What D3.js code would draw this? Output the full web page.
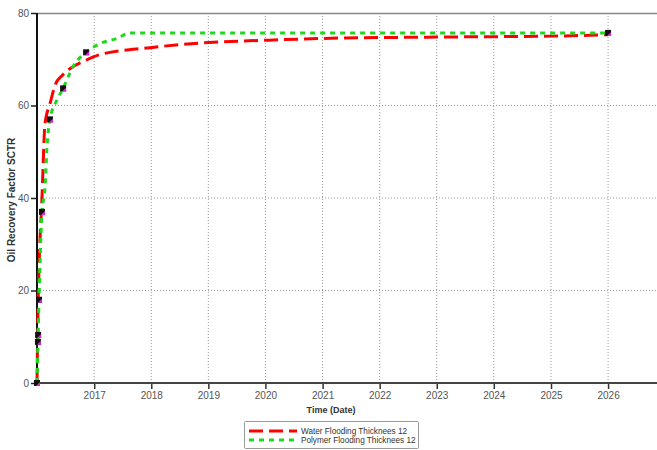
<!DOCTYPE html>
<html>
<head>
<meta charset="utf-8">
<script src="https://cdn.jsdelivr.net/npm/d3@7/dist/d3.min.js"></script>
<style>
  body { margin: 0; background: #fff; }
  svg { font-family: "Liberation Sans", Arial, sans-serif; display: block; }
</style>
</head>
<body>
<svg id="chart"></svg>
<script>
const WIDTH = 657, HEIGHT = 450;

// water flooding (red dashed)
const waterDates = ["2016-01-01","2016-01-07","2016-01-19","2016-02-02","2016-02-08","2016-02-21",
  "2016-03-25","2016-04-27","2016-06-10","2016-07-31","2016-10-23","2017-02-06","2017-12-24",
  "2018-11-03","2020-01-01","2021-01-01","2023-01-01","2025-01-01","2026-01-01"];
const waterValues = [0, 15, 30, 40, 46, 56, 60.5, 64.5, 66.5, 68, 69.5, 71, 72.5, 73.5, 74.1, 74.5, 74.8, 75.0, 75.3];

// polymer flooding (green dotted)
const polyDates = ["2016-01-01","2016-01-07","2016-01-14","2016-02-02","2016-02-21","2016-03-05",
  "2016-03-24","2016-05-08","2016-06-16","2016-08-18","2016-11-10","2017-02-08","2017-05-27",
  "2017-08-19","2026-01-01"];
const polyValues = [0, 9, 18, 37, 42, 51, 57, 61.2, 63.7, 68.4, 71.5, 73.4, 74.5, 75.7, 75.7];

// observed points (square markers)
const markDates = ["2016-01-01","2016-01-07","2016-01-08","2016-01-14","2016-02-02","2016-03-24",
  "2016-06-16","2016-11-10","2026-01-01"];
const markValues = [0, 8.9, 10.4, 18, 37, 57, 63.7, 71.5, 75.7];

const yearTicks = [2017, 2018, 2019, 2020, 2021, 2022, 2023, 2024, 2025, 2026];
const yTicks = [0, 20, 40, 60, 80];
const seriesNames = ["Water Flooding Thicknees 12", "Polymer Flooding Thicknees 12"];

const parse = d3.timeParse("%Y-%m-%d");
const water = waterDates.map((d, i) => ({date: parse(d), value: waterValues[i]}));
const poly = polyDates.map((d, i) => ({date: parse(d), value: polyValues[i]}));
const marks = markDates.map((d, i) => ({date: parse(d), value: markValues[i]}));

const plotL = 37, plotR = 657, plotT = 13, plotB = 383;

const svg = d3.select("#chart").attr("width", WIDTH).attr("height", HEIGHT);

const x = d3.scaleTime()
  .domain([parse("2016-01-01"), parse("2026-11-10")])
  .range([plotL, plotR]);
const y = d3.scaleLinear().domain([0, 80]).range([plotB, plotT]);

/* grid */
svg.append("g").selectAll("line")
  .data(yearTicks)
  .enter().append("line")
  .attr("x1", d => x(new Date(d, 0, 1))).attr("x2", d => x(new Date(d, 0, 1)))
  .attr("y1", plotT).attr("y2", plotB)
  .attr("stroke", "#999").attr("stroke-dasharray", "1,2");

svg.append("g").selectAll("line")
  .data([20, 40, 60])
  .enter().append("line")
  .attr("x1", plotL).attr("x2", plotR)
  .attr("y1", d => y(d)).attr("y2", d => y(d))
  .attr("stroke", "#999").attr("stroke-dasharray", "1,2");

// top border
svg.append("line")
  .attr("x1", plotL).attr("x2", plotR).attr("y1", plotT + 0.5).attr("y2", plotT + 0.5)
  .attr("stroke", "#888").attr("stroke-width", 1.5);

/* axes */
const xAxis = svg.append("g")
  .attr("transform", "translate(0," + plotB + ")")
  .call(d3.axisBottom(x)
    .tickValues(yearTicks.map(d => new Date(d, 0, 1)))
    .tickFormat(d3.timeFormat("%Y"))
    .tickSize(6).tickPadding(3));
xAxis.select(".domain").remove();
xAxis.selectAll("line").attr("stroke", "#333").attr("stroke-width", 1.5);
xAxis.selectAll("text").attr("fill", "#555").attr("font-size", 10).attr("font-family", "Liberation Sans, Arial, sans-serif");

const yAxis = svg.append("g")
  .attr("transform", "translate(" + plotL + ",0)")
  .call(d3.axisLeft(y).tickValues(yTicks).tickSize(6).tickPadding(2));
yAxis.select(".domain").remove();
yAxis.selectAll("line").attr("stroke", "#222").attr("stroke-width", 1.5);
yAxis.selectAll("text").attr("fill", "#555").attr("font-size", 10).attr("font-family", "Liberation Sans, Arial, sans-serif");

svg.append("line")
  .attr("x1", plotL).attr("x2", plotR).attr("y1", plotB).attr("y2", plotB)
  .attr("stroke", "#444").attr("stroke-width", 2);
svg.append("line")
  .attr("x1", plotL).attr("x2", plotL).attr("y1", plotT).attr("y2", plotB + 1)
  .attr("stroke", "#111").attr("stroke-width", 2);

/* titles */
svg.append("text")
  .attr("x", 331).attr("y", 413)
  .attr("text-anchor", "middle")
  .attr("font-size", 9).attr("font-weight", "bold").attr("fill", "#333")
  .text("Time (Date)");

svg.append("text")
  .attr("transform", "translate(15,200) rotate(-90)")
  .attr("text-anchor", "middle")
  .attr("font-size", 10).attr("font-weight", "bold").attr("fill", "#333")
  .text("Oil Recovery Factor SCTR");

/* series */
const line = d3.line().x(d => x(d.date)).y(d => y(d.value)).curve(d3.curveMonotoneX);

svg.append("path").datum(water)
  .attr("d", line).attr("fill", "none")
  .attr("stroke", "#ff0000").attr("stroke-width", 3)
  .attr("stroke-dasharray", "14,6");

svg.append("path").datum(poly)
  .attr("d", line).attr("fill", "none")
  .attr("stroke", "#1ed81e").attr("stroke-width", 3)
  .attr("stroke-dasharray", "5,5");

/* markers */
const mk = svg.append("g").selectAll("g")
  .data(marks)
  .enter().append("g")
  .attr("transform", d => "translate(" + x(d.date) + "," + y(d.value) + ")");
mk.append("rect")
  .attr("x", -3).attr("y", -3).attr("width", 6).attr("height", 6)
  .attr("fill", "#111");
mk.append("path")
  .attr("d", "M-1,3 L3,-1 L3,3 Z")
  .attr("fill", "#e020e0");

/* legend */
const legend = svg.append("g");
legend.append("rect")
  .attr("x", 244.5).attr("y", 421.5).attr("width", 174).attr("height", 27)
  .attr("fill", "#fff").attr("stroke", "#999").attr("rx", 1);

const legendColors = ["#ff0000", "#1ed81e"];
const legendDash = ["14,6", "5,5"];
seriesNames.forEach((name, i) => {
  const ly = 431 + i * 9;
  legend.append("line")
    .attr("x1", 249).attr("x2", 297).attr("y1", ly).attr("y2", ly)
    .attr("stroke", legendColors[i]).attr("stroke-width", 3)
    .attr("stroke-dasharray", legendDash[i]);
  legend.append("text")
    .attr("x", 301).attr("y", ly + 3)
    .attr("font-size", 8.2).attr("fill", "#333")
    .text(name);
});
</script>
</body>
</html>
